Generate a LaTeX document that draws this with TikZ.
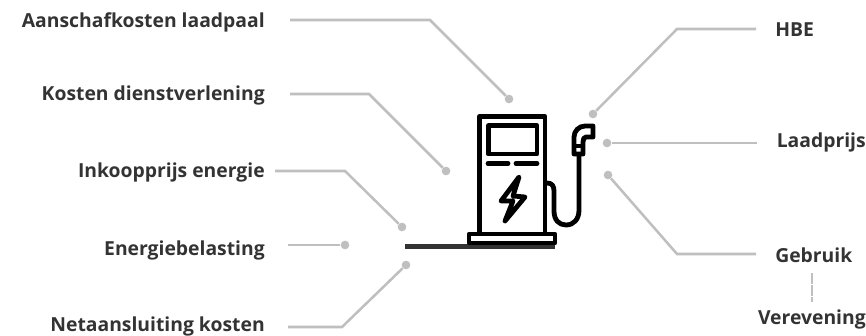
\documentclass[tikz,border=0pt]{standalone}
\usepackage{fontspec}
\setmainfont{Open Sans}
\definecolor{ln}{HTML}{BFBFBF}
\definecolor{tx}{HTML}{333333}
\tikzset{
 lab/.style={font=\bfseries\fontsize{14.5}{17}\selectfont,text=tx,inner sep=0pt},
 dot/.style={circle,fill=ln,inner sep=0pt,minimum size=6.5pt},
 conn/.style={draw=ln,line width=1.9pt},
 pump/.style={draw=black,line width=3.6pt,line join=round,line cap=round},
}
\begin{document}
\begin{tikzpicture}[x=0.75pt,y=-0.75pt]
\useasboundingbox (0,0) rectangle (866,335);
\node[lab,anchor=east] (a) at (265,22) {Aanschafkosten laadpaal};
\node[lab,anchor=east] (b) at (265,95) {Kosten dienstverlening};
\node[lab,anchor=east] (c) at (265,172) {Inkoopprijs energie};
\node[lab,anchor=east] (d) at (265,250) {Energiebelasting};
\node[lab,anchor=east] (e) at (265,326) {Netaansluiting kosten};
\node[lab,anchor=west] (f) at (775,30) {HBE};
\node[lab,anchor=east] (g) at (866,142) {Laadprijs};
\node[lab,anchor=west] (h) at (775,255) {Gebruik};
\node[lab,anchor=east] (i) at (866,319) {Verevening};
\node[dot] (da) at (509,99) {};
\node[dot] (db) at (446,171) {};
\node[dot] (dc) at (402,227) {};
\node[dot] (dd) at (345,245) {};
\node[dot] (de) at (406,265) {};
\node[dot] (df) at (593,114) {};
\node[dot] (dg) at (607,143) {};
\node[dot] (dh) at (608,175) {};
\coordinate (sa) at (290,20); \coordinate (sb) at (290,94); \coordinate (sc) at (275,171);
\coordinate (sd) at (288,245); \coordinate (se) at (288,327); \coordinate (sf) at (756,29);
\coordinate (sg) at (757,143); \coordinate (sh) at (756,254);
\coordinate (si) at (812,273); \coordinate (sj) at (812,302);
\draw[conn] (sa) -- (430,20) -- (da);
\draw[conn] (sb) -- (369,94) -- (db);
\draw[conn] (sc) -- (345,171) -- (dc);
\draw[conn] (sd) -- (dd);
\draw[conn] (se) -- (342,327) -- (de);
\draw[conn] (sf) -- (677,29) -- (df);
\draw[conn] (sg) -- (dg);
\draw[conn] (sh) -- (677,254) -- (dh);
\draw[draw=ln,line width=2.2pt,dash pattern=on 8pt off 1pt] (si) -- (sj);
% ground
\fill[tx] (405,243.5) rectangle (555,249);
% pump
\draw[pump,fill=white] (479.5,233) -- (479.5,116.7) -- (545,116.7) -- (545,233);
\draw[pump,fill=white] (469,234) rectangle (555,243);
\draw[pump] (488.3,125.7) rectangle (537,154);
\draw[pump] (488,163.5) -- (508,163.5) (516,163.5) -- (537,163.5);
\draw[pump] (519,177) -- (501,201) -- (513,201) -- (505,221) -- (525,197) -- (513,196) -- cycle;
\draw[pump] (547,183) .. controls (552,183) and (554,186) .. (554,191) -- (554,211) .. controls (554,220) and (559,225) .. (566,225) .. controls (574,225) and (579,219) .. (579,210) -- (579,155);
\draw[pump] (574,154) -- (574,137) .. controls (574,131) and (579,126) .. (585,126) -- (593,126) -- (593,137) -- (586,137) .. controls (584,137) and (583,139) .. (583,142) -- (583,154) -- cycle;
\draw[pump,line width=2.4pt] (574,146) -- (583,146);
\end{tikzpicture}
\end{document}
